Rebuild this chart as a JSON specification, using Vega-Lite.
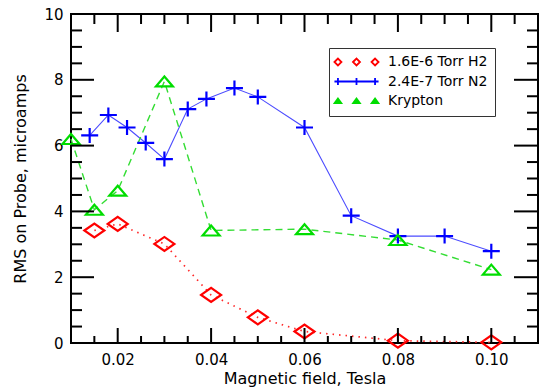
{
  "$schema": "https://vega.github.io/schema/vega-lite/v6.json",
  "width": 467,
  "height": 329,
  "autosize": "none",
  "padding": {"left": 71, "top": 14, "right": 5, "bottom": 47},
  "background": "white",
  "config": {
    "view": {"stroke": "black", "strokeWidth": 2},
    "font": "DejaVu Sans",
    "axis": {"domain": false, "ticks": false, "grid": false, "labelOverlap": false, "labelFlush": false, "labelColor": "black", "titleColor": "black", "titleFontWeight": "normal"}
  },
  "datasets": {
    "ymajor": [{"t": 0}, {"t": 2}, {"t": 4}, {"t": 6}, {"t": 8}, {"t": 10}],
    "yminor": [{"t": 0.5}, {"t": 1}, {"t": 1.5}, {"t": 2.5}, {"t": 3}, {"t": 3.5}, {"t": 4.5}, {"t": 5}, {"t": 5.5}, {"t": 6.5}, {"t": 7}, {"t": 7.5}, {"t": 8.5}, {"t": 9}, {"t": 9.5}],
    "rms": [
      {"series": "1.6E-6 Torr H2", "B": 0.015, "rms": 3.42},
      {"series": "1.6E-6 Torr H2", "B": 0.02, "rms": 3.62},
      {"series": "1.6E-6 Torr H2", "B": 0.03, "rms": 3.01},
      {"series": "1.6E-6 Torr H2", "B": 0.04, "rms": 1.46},
      {"series": "1.6E-6 Torr H2", "B": 0.05, "rms": 0.78},
      {"series": "1.6E-6 Torr H2", "B": 0.06, "rms": 0.35},
      {"series": "1.6E-6 Torr H2", "B": 0.08, "rms": 0.07},
      {"series": "1.6E-6 Torr H2", "B": 0.10, "rms": 0.02},
      {"series": "2.4E-7 Torr N2", "B": 0.014, "rms": 6.31},
      {"series": "2.4E-7 Torr N2", "B": 0.018, "rms": 6.93},
      {"series": "2.4E-7 Torr N2", "B": 0.022, "rms": 6.55},
      {"series": "2.4E-7 Torr N2", "B": 0.026, "rms": 6.08},
      {"series": "2.4E-7 Torr N2", "B": 0.030, "rms": 5.59},
      {"series": "2.4E-7 Torr N2", "B": 0.035, "rms": 7.11},
      {"series": "2.4E-7 Torr N2", "B": 0.039, "rms": 7.42},
      {"series": "2.4E-7 Torr N2", "B": 0.045, "rms": 7.75},
      {"series": "2.4E-7 Torr N2", "B": 0.050, "rms": 7.48},
      {"series": "2.4E-7 Torr N2", "B": 0.060, "rms": 6.55},
      {"series": "2.4E-7 Torr N2", "B": 0.070, "rms": 3.87},
      {"series": "2.4E-7 Torr N2", "B": 0.080, "rms": 3.25},
      {"series": "2.4E-7 Torr N2", "B": 0.090, "rms": 3.25},
      {"series": "2.4E-7 Torr N2", "B": 0.100, "rms": 2.79},
      {"series": "Krypton", "B": 0.01, "rms": 6.2},
      {"series": "Krypton", "B": 0.015, "rms": 4.05},
      {"series": "Krypton", "B": 0.02, "rms": 4.63},
      {"series": "Krypton", "B": 0.03, "rms": 7.95},
      {"series": "Krypton", "B": 0.04, "rms": 3.42},
      {"series": "Krypton", "B": 0.06, "rms": 3.46},
      {"series": "Krypton", "B": 0.08, "rms": 3.13},
      {"series": "Krypton", "B": 0.10, "rms": 2.23}
    ]
  },
  "data": {"name": "rms"},
  "layer": [
    {
      "transform": [{"filter": "datum.series == '1.6E-6 Torr H2'"}],
      "mark": {"type": "line", "color": "#ff2a2a", "strokeWidth": 1.7, "strokeDash": [1.5, 5]},
      "encoding": {
        "x": {
          "field": "B", "type": "quantitative",
          "scale": {"domain": [0.01, 0.11], "nice": false, "zero": false},
          "axis": {
            "orient": "bottom",
            "title": "Magnetic field, Tesla",
            "titleFontSize": 16, "titlePadding": 3,
            "values": [0.02, 0.04, 0.06, 0.08, 0.1],
            "format": ".2f",
            "labelFontSize": 15,
            "labelPadding": 9
          }
        },
        "y": {
          "field": "rms", "type": "quantitative",
          "scale": {"domain": [0, 10], "nice": false},
          "axis": {
            "orient": "left",
            "title": "RMS on Probe, microamps",
            "titleFontSize": 16, "titlePadding": 15,
            "values": [0, 2, 4, 6, 8, 10],
            "format": "d",
            "labelFontSize": 15,
            "labelPadding": 8
          }
        }
      }
    },
    {
      "transform": [{"filter": "datum.series == '2.4E-7 Torr N2'"}],
      "mark": {"type": "line", "color": "#4c4cff", "strokeWidth": 1.1},
      "encoding": {
        "x": {"field": "B", "type": "quantitative", "axis": null},
        "y": {"field": "rms", "type": "quantitative", "axis": null}
      }
    },
    {
      "transform": [{"filter": "datum.series == 'Krypton'"}],
      "mark": {"type": "line", "color": "#33dd33", "strokeWidth": 1.4, "strokeDash": [7, 5]},
      "encoding": {
        "x": {"field": "B", "type": "quantitative", "axis": null},
        "y": {"field": "rms", "type": "quantitative", "axis": null}
      }
    },
    {
      "mark": {
        "type": "point", "filled": false, "size": 100, "strokeWidth": 2.2, "opacity": 1,
        "shape": {"expr": "datum.series == '1.6E-6 Torr H2' ? 'M-2,0L0,-1.4L2,0L0,1.4Z' : datum.series == '2.4E-7 Torr N2' ? 'M-1.7,0L1.7,0M0,-1.5L0,1.5' : 'M-1.7,1L0,-1L1.7,1Z'"}
      },
      "encoding": {
        "x": {"field": "B", "type": "quantitative", "axis": null},
        "y": {"field": "rms", "type": "quantitative", "axis": null},
        "color": {
          "field": "series", "type": "nominal",
          "scale": {
            "domain": ["1.6E-6 Torr H2", "2.4E-7 Torr N2", "Krypton"],
            "range": ["#ff0000", "#0000ff", "#00dd00"]
          },
          "legend": {
            "title": null,
            "orient": "none", "legendX": 258, "legendY": 34,
            "padding": 7, "strokeColor": "#333333", "fillColor": "white",
            "labelFont": "DejaVu Sans", "labelFontSize": 14, "labelColor": "black",
            "symbolType": {"expr": "datum.value == '1.6E-6 Torr H2' ? 'M-6.3,0L-5.3,-1L-4.3,0L-5.3,1Z M-1,0L0,-1L1,0L0,1Z M4.3,0L5.3,-1L6.3,0L5.3,1Z' : datum.value == '2.4E-7 Torr N2' ? 'M-6.3,0L6.3,0M-5.3,-1L-5.3,1M0,-1L0,1M5.3,-1L5.3,1' : 'M-5.9,0.4L-5.3,-0.4L-4.7,0.4Z M-0.6,0.4L0,-0.4L0.6,0.4Z M4.7,0.4L5.3,-0.4L5.9,0.4Z'"},
            "symbolStrokeWidth": {"expr": "datum.value == 'Krypton' ? 3 : 1.8"},
            "symbolSize": 49, "symbolOffset": 13.5, "labelOffset": 24.5, "rowPadding": 3.5
          }
        }
      }
    },
    {
      "data": {"values": [{"t": 0.02}, {"t": 0.04}, {"t": 0.06}, {"t": 0.08}, {"t": 0.1}]},
      "layer": [
        {
          "mark": {"type": "point", "filled": false, "stroke": "#000000", "strokeOpacity": 1, "strokeWidth": 2, "size": 4, "opacity": 1, "shape": "M0,0L0,-15"},
          "encoding": {
            "x": {"field": "t", "type": "quantitative", "axis": null},
            "y": {"datum": 0, "type": "quantitative", "axis": null}
          }
        },
        {
          "mark": {"type": "point", "filled": false, "stroke": "#000000", "strokeOpacity": 1, "strokeWidth": 2, "size": 4, "opacity": 1, "shape": "M0,0L0,18"},
          "encoding": {
            "x": {"field": "t", "type": "quantitative", "axis": null},
            "y": {"datum": 10, "type": "quantitative", "axis": null}
          }
        }
      ]
    },
    {
      "data": {"values": [{"t": 0.015}, {"t": 0.025}, {"t": 0.03}, {"t": 0.035}, {"t": 0.045}, {"t": 0.05}, {"t": 0.055}, {"t": 0.065}, {"t": 0.07}, {"t": 0.075}, {"t": 0.085}, {"t": 0.09}, {"t": 0.095}, {"t": 0.105}]},
      "layer": [
        {
          "mark": {"type": "point", "filled": false, "stroke": "#000000", "strokeOpacity": 1, "strokeWidth": 2, "size": 4, "opacity": 1, "shape": "M0,0L0,-7"},
          "encoding": {
            "x": {"field": "t", "type": "quantitative", "axis": null},
            "y": {"datum": 0, "type": "quantitative", "axis": null}
          }
        },
        {
          "mark": {"type": "point", "filled": false, "stroke": "#000000", "strokeOpacity": 1, "strokeWidth": 2, "size": 4, "opacity": 1, "shape": "M0,0L0,10"},
          "encoding": {
            "x": {"field": "t", "type": "quantitative", "axis": null},
            "y": {"datum": 10, "type": "quantitative", "axis": null}
          }
        }
      ]
    },
    {
      "data": {"name": "ymajor"},
      "layer": [
        {
          "mark": {"type": "point", "filled": false, "stroke": "#000000", "strokeOpacity": 1, "strokeWidth": 2, "size": 4, "opacity": 1, "shape": "M0,0L23,0"},
          "encoding": {
            "y": {"field": "t", "type": "quantitative", "axis": null},
            "x": {"datum": 0.01, "type": "quantitative", "axis": null}
          }
        },
        {
          "mark": {"type": "point", "filled": false, "stroke": "#000000", "strokeOpacity": 1, "strokeWidth": 2, "size": 4, "opacity": 1, "shape": "M0,0L-24,0"},
          "encoding": {
            "y": {"field": "t", "type": "quantitative", "axis": null},
            "x": {"datum": 0.11, "type": "quantitative", "axis": null}
          }
        }
      ]
    },
    {
      "data": {"name": "yminor"},
      "layer": [
        {
          "mark": {"type": "point", "filled": false, "stroke": "#000000", "strokeOpacity": 1, "strokeWidth": 2, "size": 4, "opacity": 1, "shape": "M0,0L11,0"},
          "encoding": {
            "y": {"field": "t", "type": "quantitative", "axis": null},
            "x": {"datum": 0.01, "type": "quantitative", "axis": null}
          }
        },
        {
          "mark": {"type": "point", "filled": false, "stroke": "#000000", "strokeOpacity": 1, "strokeWidth": 2, "size": 4, "opacity": 1, "shape": "M0,0L-11,0"},
          "encoding": {
            "y": {"field": "t", "type": "quantitative", "axis": null},
            "x": {"datum": 0.11, "type": "quantitative", "axis": null}
          }
        }
      ]
    }
  ],
  "resolve": {"axis": {"x": "independent", "y": "independent"}}
}
